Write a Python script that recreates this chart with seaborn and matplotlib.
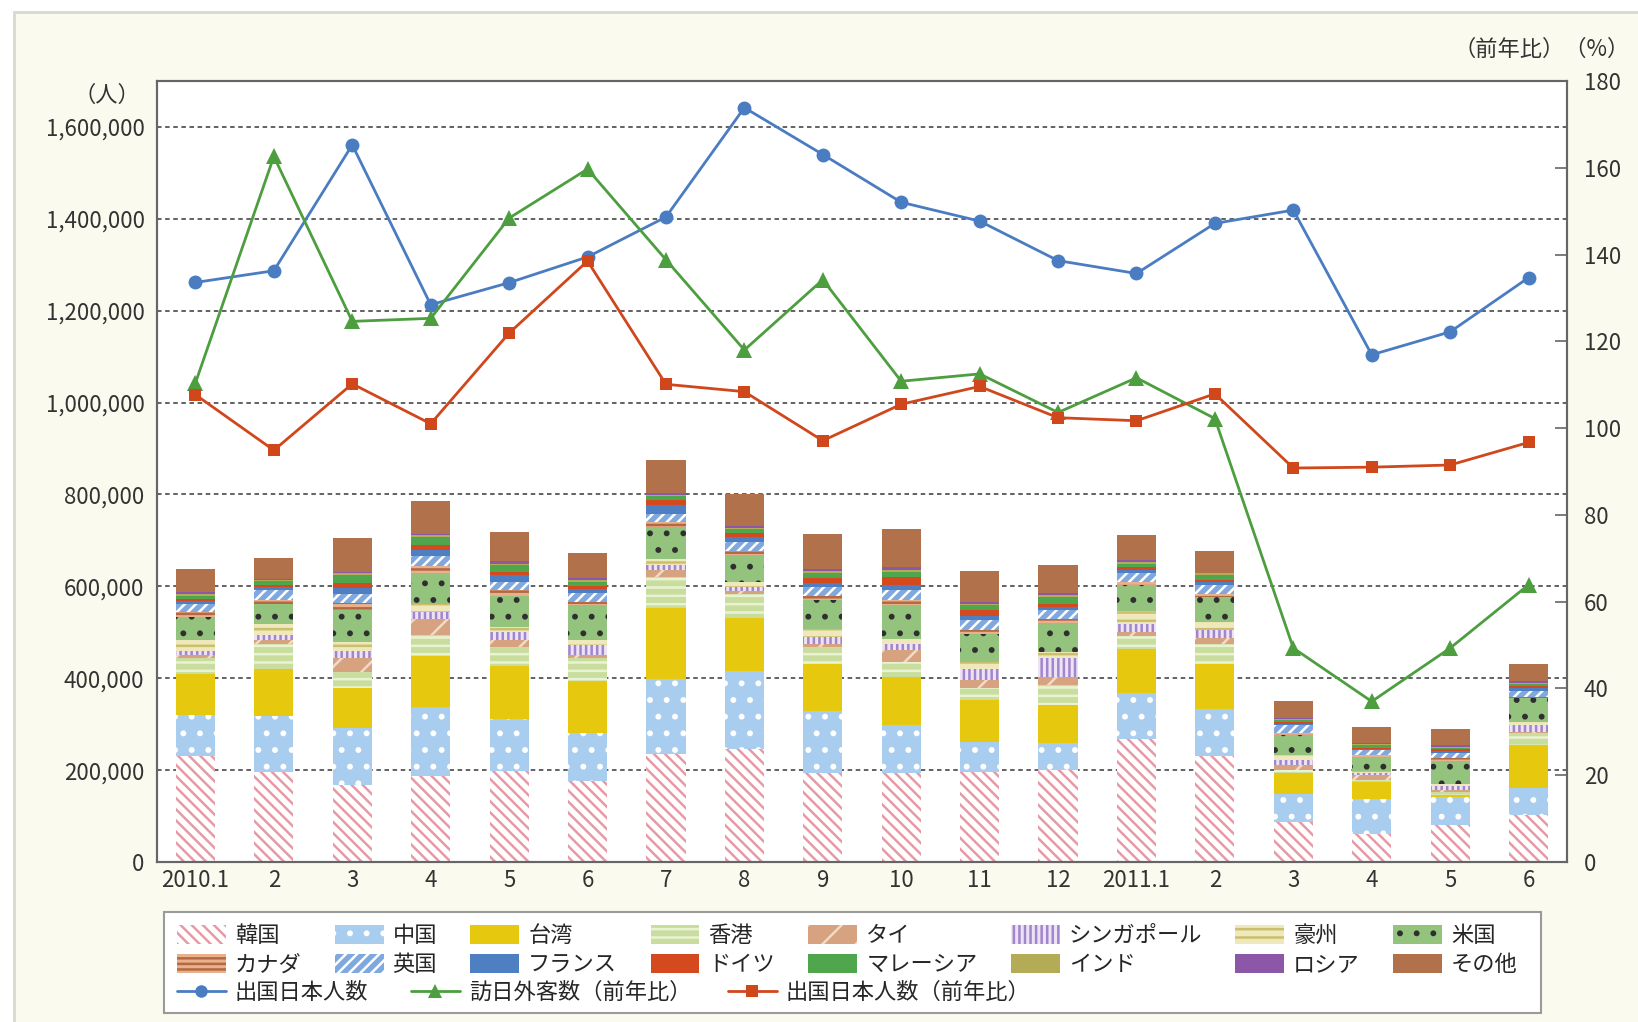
import seaborn as sns
import matplotlib.pyplot as plt
import matplotlib.patches as mpatches
from matplotlib.lines import Line2D
from matplotlib.ticker import FuncFormatter
import numpy as np

# ---- data (bars in thousands of visitors) ----
months = ['2010.1', '2', '3', '4', '5', '6', '7', '8', '9', '10', '11', '12',
          '2011.1', '2', '3', '4', '5', '6']

korea     = [230, 195, 167, 188, 199, 177, 234, 245, 194, 193, 195, 200, 267, 230, 88, 61, 80, 102]
china     = [91, 122, 124, 150, 113, 103, 164, 170, 135, 105, 67, 59, 100, 104, 61, 77, 61, 60]
taiwan    = [89, 104, 87, 110, 114, 114, 155, 116, 101, 105, 90, 82, 96, 96, 45, 37, 5, 92]
hongkong  = [33, 53, 36, 47, 42, 49, 67, 52, 38, 32, 26, 44, 30, 45, 7, 3, 6, 26]
thailand  = [7, 9, 29, 33, 15, 7, 15, 7, 7, 26, 19, 18, 8, 13, 10, 11, 5, 3]
singapore = [9, 12, 16, 16, 18, 22, 11, 9, 15, 14, 24, 40, 18, 18, 11, 4, 9, 15]
australia = [24, 22, 20, 17, 11, 11, 14, 10, 18, 11, 14, 14, 27, 16, 11, 6, 4, 7]
usa       = [50, 45, 69, 68, 66, 76, 70, 60, 62, 73, 62, 62, 58, 55, 43, 30, 49, 51]
canada    = [11, 8, 16, 16, 13, 7, 10, 9, 10, 11, 9, 11, 5, 6, 4, 4, 7, 3]
uk        = [18, 21, 19, 22, 18, 19, 18, 18, 19, 23, 20, 18, 19, 19, 18, 10, 11, 13]
france    = [6, 8, 14, 13, 15, 10, 18, 11, 8, 11, 9, 7, 7, 7, 3, 3, 4, 6]
germany   = [5, 5, 10, 11, 7, 5, 11, 9, 12, 16, 13, 7, 7, 5, 4, 3, 4, 5]
malaysia  = [7, 7, 17, 16, 15, 9, 9, 9, 10, 11, 11, 15, 7, 10, 5, 5, 4, 4]
india     = [4, 2, 4, 4, 3, 4, 3, 2, 4, 5, 3, 5, 3, 4, 2, 2, 2, 3]
russia    = [4, 4, 3, 3, 6, 5, 4, 4, 5, 6, 5, 3, 5, 2, 2, 2, 3, 3]
others    = [50, 45, 75, 71, 63, 55, 73, 69, 76, 82, 66, 61, 54, 47, 37, 36, 35, 37]

# lines
outbound = [1261500, 1287000, 1561000, 1213000, 1261000, 1317000, 1404000, 1642000, 1540000,
            1436000, 1395000, 1309000, 1281000, 1390000, 1419000, 1104000, 1154000, 1272000]
visitors_yoy = [110.4, 162.6, 124.6, 125.3, 148.4, 159.7, 138.8, 118.0, 134.2,
                110.8, 112.5, 103.6, 111.6, 102.2, 49.3, 37.0, 49.3, 63.9]
outbound_yoy = [107.7, 94.9, 110.2, 101.0, 121.9, 138.5, 110.1, 108.4, 97.1,
                105.5, 109.6, 102.4, 101.7, 107.9, 90.8, 91.0, 91.5, 96.7]

countries = ['韓国', '中国', '台湾', '香港', 'タイ', 'シンガポール', '豪州', '米国',
             'カナダ', '英国', 'フランス', 'ドイツ', 'マレーシア', 'インド', 'ロシア', 'その他']
series = [korea, china, taiwan, hongkong, thailand, singapore, australia, usa,
          canada, uk, france, germany, malaysia, india, russia, others]
line_labels = ['出国日本人数', '訪日外客数（前年比）', '出国日本人数（前年比）']

# (facecolor, hatch colour, hatch)
styles = [
    ('white',   '#e79aa5', '\\\\\\'),
    ('#a9cdef', 'white',   '.'),
    ('#e6c80e', None,      None),
    ('#c9de9e', '#e9f2d2', '--'),
    ('#d7a27f', '#f1dcc9', '/'),
    ('#ece4f4', '#a285cc', '|||'),
    ('#eee8bc', '#cbbf6c', '--'),
    ('#94c37e', '#2f2f2f', '.'),
    ('#e9b08c', '#b36a44', '---'),
    ('#7fa8de', 'white',   '///'),
    ('#4f7fc3', None,      None),
    ('#d4491d', None,      None),
    ('#4fa64c', None,      None),
    ('#b3ab55', None,      None),
    ('#8c57a8', None,      None),
    ('#b0714b', None,      None),
]

blue, green, red = '#4a7cc1', '#4c9e3e', '#d0471c'

sns.set_theme(style="white")
plt.rcParams['font.family'] = ['Noto Sans CJK JP', 'DejaVu Sans']
plt.rcParams['hatch.linewidth'] = 1.8

W, H = 1638, 1022
fig = plt.figure(figsize=(W / 100, H / 100), dpi=100)
fig.patch.set_facecolor('white')
fig.add_artist(mpatches.Rectangle((14 / W, -0.1), 1.1, 1.1 - 12 / H, transform=fig.transFigure,
                                  facecolor='#fafaee', edgecolor='#d9d9d2', linewidth=2, zorder=-10))

ax = fig.add_axes([157 / W, 1 - 862 / H, (1567 - 157) / W, (862 - 81) / H])
ax.set_facecolor('white')

# ---- stacked bars ----
x = np.arange(len(months))
bottom = np.zeros(len(months))
handles = []
for name, vals, (fc, hc, hatch) in zip(countries, series, styles):
    v = np.array(vals) * 1000.0
    ax.bar(x, v, 0.5, bottom=bottom, facecolor=fc, edgecolor=hc if hc else fc,
           hatch=hatch, linewidth=0, zorder=2)
    bottom += v
    handles.append(mpatches.Patch(facecolor=fc, edgecolor=hc if hc else fc,
                                  hatch=hatch, linewidth=0))

# ---- lines ----
ax2 = ax.twinx()
sns.lineplot(x=x, y=outbound, ax=ax, color=blue, marker='o', markersize=10,
             markeredgewidth=0, linewidth=2, zorder=5)
sns.lineplot(x=x, y=visitors_yoy, ax=ax2, color=green, marker='^', markersize=11,
             markeredgewidth=0, linewidth=2, zorder=5)
sns.lineplot(x=x, y=outbound_yoy, ax=ax2, color=red, marker='s', markersize=8.5,
             markeredgewidth=0, linewidth=2, zorder=5)

# ---- axes styling ----
ax.set_xlim(-0.49, len(months) - 0.51)
ax.set_ylim(0, 1700000)
ax2.set_ylim(0, 180)
ax.set_yticks(range(0, 1600001, 200000))
ax.yaxis.set_major_formatter(FuncFormatter(lambda v, p: f'{v:,.0f}'))
ax.set_xticks(x, months)
ax2.set_yticks(range(0, 181, 20))
ax.set_xlabel('')
ax.set_ylabel('')
ax2.set_ylabel('')

ax.tick_params(axis='both', length=0, labelsize=16, colors='#333333')
ax.tick_params(axis='y', pad=9)
ax.tick_params(axis='x', pad=5)
ax2.tick_params(axis='y', direction='in', length=9, width=1.2, color='#666666',
                labelsize=16, labelcolor='#333333', pad=12)

ax.yaxis.grid(True, linestyle=(0, (2.5, 2)), color='#555555', linewidth=1.3)
ax.xaxis.grid(False)
ax2.grid(False)
ax.set_axisbelow(True)
for a in (ax, ax2):
    for s in a.spines.values():
        s.set_color('#666666')
        s.set_linewidth(1.5)

fig.text(107 / W, 1 - 95 / H, '（人）', ha='center', va='center', fontsize=16, color='#333333')
fig.text(1630 / W, 1 - 49 / H, '（前年比）（%）', ha='right', va='center', fontsize=16, color='#333333')

# ---- legend ----
fig.add_artist(mpatches.Rectangle((164 / W, 1 - 1013 / H), (1541 - 164) / W, (1013 - 912) / H,
                                  transform=fig.transFigure, facecolor='white',
                                  edgecolor='#9a9a9a', linewidth=1.5, zorder=1))
order = []
for i in range(8):
    order += [i, i + 8]
fig.legend([handles[i] for i in order], [countries[i] for i in order], ncol=8,
           loc='upper left', bbox_to_anchor=(177 / W, 1 - 924 / H), frameon=False,
           fontsize=16, handlelength=2.2, handleheight=0.9, handletextpad=0.4,
           columnspacing=1.5, labelspacing=0.28, borderpad=0, borderaxespad=0)

line_handles = [
    Line2D([], [], color=blue, marker='o', markersize=9, markeredgewidth=0, linewidth=2),
    Line2D([], [], color=green, marker='^', markersize=10, markeredgewidth=0, linewidth=2),
    Line2D([], [], color=red, marker='s', markersize=8, markeredgewidth=0, linewidth=2),
]
for hnd, lab, lx in zip(line_handles, line_labels, [177, 411, 728]):
    fig.legend([hnd], [lab], loc='upper left', bbox_to_anchor=(lx / W, 1 - 981 / H),
               frameon=False, fontsize=16, handlelength=2.2, handletextpad=0.4,
               borderpad=0, borderaxespad=0)

fig.savefig('out.png', dpi=100)
plt.close(fig)
